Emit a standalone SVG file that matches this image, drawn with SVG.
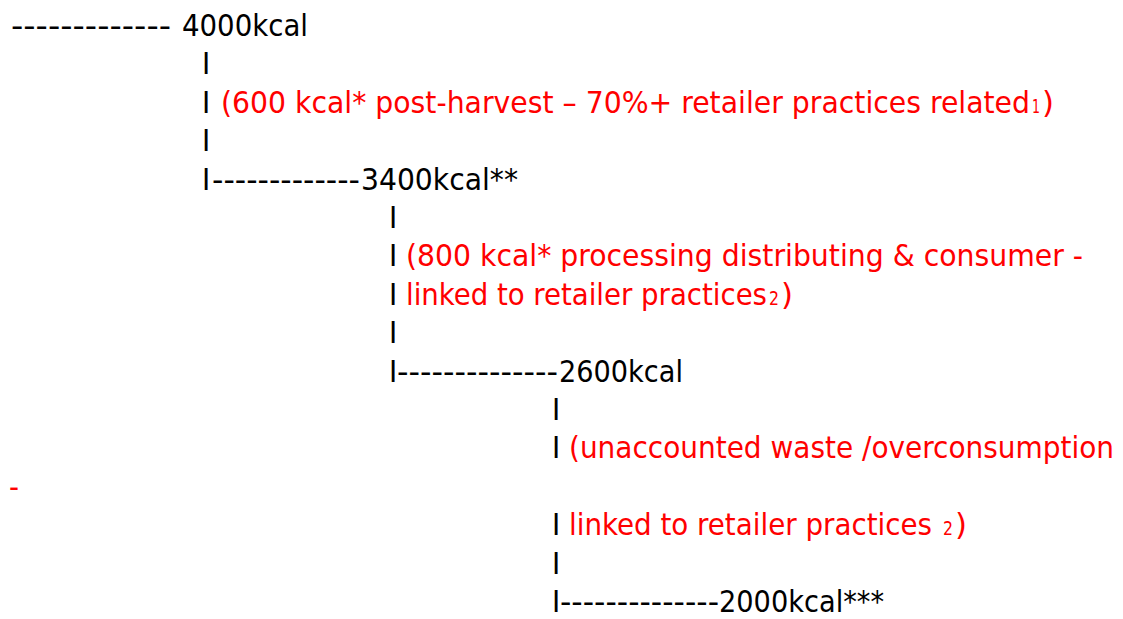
<svg xmlns="http://www.w3.org/2000/svg" width="1123" height="619" viewBox="0 0 1123 619">
<style>
text{font-family:"DejaVu Sans Condensed","DejaVu Sans","Liberation Sans",Arial,sans-serif;font-stretch:condensed;font-size:31px;fill:#000}
.r{fill:#ff0000}
.s{font-size:20px}
</style>
<rect width="1123" height="619" fill="#ffffff"/>
<g id="connectors">
<text x="11" y="36" textLength="160" lengthAdjust="spacingAndGlyphs">-------------</text>
<text x="202" y="74.4">I</text>
<text x="202" y="112.8">I</text>
<text x="202" y="151.2">I</text>
<text x="202" y="189.6">I</text>
<text x="212" y="189.6" textLength="148" lengthAdjust="spacingAndGlyphs">-------------</text>
<text x="389" y="228">I</text>
<text x="389" y="266.4">I</text>
<text x="389" y="304.8">I</text>
<text x="389" y="343.2">I</text>
<text x="389" y="381.6">I</text>
<text x="397" y="381.6" textLength="161" lengthAdjust="spacingAndGlyphs">--------------</text>
<text x="552" y="420">I</text>
<text x="552" y="458.4">I</text>
<text x="552" y="535.2">I</text>
<text x="552" y="573.6">I</text>
<text x="552" y="612">I</text>
<text x="560" y="612" textLength="159" lengthAdjust="spacingAndGlyphs">--------------</text>
</g>
<g id="n4000"><text x="182" y="36" textLength="126" lengthAdjust="spacingAndGlyphs">4000kcal</text></g>
<g id="loss1">
<text class="r" x="221" y="112.8" textLength="809" lengthAdjust="spacingAndGlyphs">(600 kcal* post-harvest – 70%+ retailer practices related</text>
<text class="r s" x="1032" y="112.8" textLength="8" lengthAdjust="spacingAndGlyphs">1</text>
<text class="r" x="1042" y="112.8" textLength="12" lengthAdjust="spacingAndGlyphs">)</text>
</g>
<g id="n3400"><text x="361" y="189.6" textLength="157" lengthAdjust="spacingAndGlyphs">3400kcal**</text></g>
<g id="loss2">
<text class="r" x="406" y="266.4" textLength="677" lengthAdjust="spacingAndGlyphs">(800 kcal* processing distributing &amp; consumer -</text>
<text class="r" x="406" y="304.8" textLength="361" lengthAdjust="spacingAndGlyphs">linked to retailer practices</text>
<text class="r s" x="769" y="304.8" textLength="10" lengthAdjust="spacingAndGlyphs">2</text>
<text class="r" x="781" y="304.8" textLength="12" lengthAdjust="spacingAndGlyphs">)</text>
</g>
<g id="n2600"><text x="559" y="381.6" textLength="124" lengthAdjust="spacingAndGlyphs">2600kcal</text></g>
<g id="loss3">
<text class="r" x="569" y="458.4" textLength="545" lengthAdjust="spacingAndGlyphs">(unaccounted waste /overconsumption</text>
<text class="r" x="9" y="496.8" textLength="10" lengthAdjust="spacingAndGlyphs">-</text>
<text class="r" x="569" y="535.2" textLength="363" lengthAdjust="spacingAndGlyphs">linked to retailer practices</text>
<text class="r s" x="943" y="535.2" textLength="10" lengthAdjust="spacingAndGlyphs">2</text>
<text class="r" x="955" y="535.2" textLength="12" lengthAdjust="spacingAndGlyphs">)</text>
</g>
<g id="n2000"><text x="719" y="612" textLength="165" lengthAdjust="spacingAndGlyphs">2000kcal***</text></g>
</svg>
